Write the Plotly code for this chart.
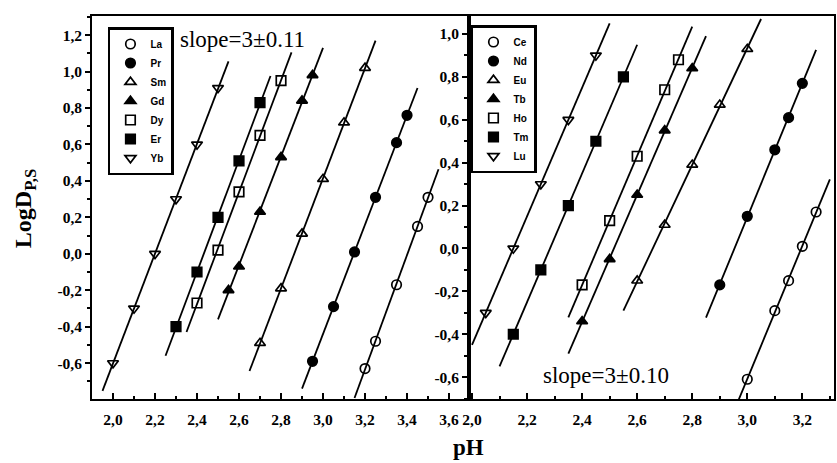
import numpy as np
import plotly.graph_objects as go

# ---------------- data ----------------
left_names = ["La", "Pr", "Sm", "Gd", "Dy", "Er", "Yb"]
right_names = ["Ce", "Nd", "Eu", "Tb", "Ho", "Tm", "Lu"]

la_x = [3.20, 3.25, 3.35, 3.45, 3.50]
la_y = [-0.63, -0.48, -0.17, 0.15, 0.31]
pr_x = [2.95, 3.05, 3.15, 3.25, 3.35, 3.40]
pr_y = [-0.59, -0.29, 0.01, 0.31, 0.61, 0.76]
sm_x = [2.70, 2.80, 2.90, 3.00, 3.10, 3.20]
sm_y = [-0.49, -0.19, 0.11, 0.41, 0.72, 1.02]
gd_x = [2.55, 2.60, 2.70, 2.80, 2.90, 2.95]
gd_y = [-0.20, -0.07, 0.23, 0.53, 0.84, 0.98]
dy_x = [2.40, 2.50, 2.60, 2.70, 2.80]
dy_y = [-0.27, 0.02, 0.34, 0.65, 0.95]
er_x = [2.30, 2.40, 2.50, 2.60, 2.70]
er_y = [-0.40, -0.10, 0.20, 0.51, 0.83]
yb_x = [2.00, 2.10, 2.20, 2.30, 2.40, 2.50]
yb_y = [-0.60, -0.30, 0.00, 0.30, 0.60, 0.91]

ce_x = [3.00, 3.10, 3.15, 3.20, 3.25]
ce_y = [-0.61, -0.29, -0.15, 0.01, 0.17]
nd_x = [2.90, 3.00, 3.10, 3.15, 3.20]
nd_y = [-0.17, 0.15, 0.46, 0.61, 0.77]
eu_x = [2.60, 2.70, 2.80, 2.90, 3.00]
eu_y = [-0.15, 0.11, 0.39, 0.67, 0.93]
tb_x = [2.40, 2.50, 2.60, 2.70, 2.80]
tb_y = [-0.34, -0.05, 0.25, 0.55, 0.84]
ho_x = [2.40, 2.50, 2.60, 2.70, 2.75]
ho_y = [-0.17, 0.13, 0.43, 0.74, 0.88]
tm_x = [2.15, 2.25, 2.35, 2.45, 2.55]
tm_y = [-0.40, -0.10, 0.20, 0.50, 0.80]
lu_x = [2.05, 2.15, 2.25, 2.35, 2.45]
lu_y = [-0.30, 0.00, 0.30, 0.60, 0.90]

left_xticks = [2.0, 2.2, 2.4, 2.6, 2.8, 3.0, 3.2, 3.4, 3.6]
left_yticks = [-0.6, -0.4, -0.2, 0.0, 0.2, 0.4, 0.6, 0.8, 1.0, 1.2]
right_xticks = [2.0, 2.2, 2.4, 2.6, 2.8, 3.0, 3.2]
right_yticks = [-0.6, -0.4, -0.2, 0.0, 0.2, 0.4, 0.6, 0.8, 1.0]

left_slope_text = "slope=3±0.11"
right_slope_text = "slope=3±0.10"
x_title = "pH"
y_title = "LogD<sub>P,S</sub>"

# ---------------- styling ----------------
symbols = ["circle-open", "circle", "triangle-up-open", "triangle-up",
           "square-open", "square", "triangle-down-open"]
left_series = [(la_x, la_y), (pr_x, pr_y), (sm_x, sm_y), (gd_x, gd_y),
               (dy_x, dy_y), (er_x, er_y), (yb_x, yb_y)]
right_series = [(ce_x, ce_y), (nd_x, nd_y), (eu_x, eu_y), (tb_x, tb_y),
                (ho_x, ho_y), (tm_x, tm_y), (lu_x, lu_y)]

EXT = 0.05
fig = go.Figure()


def add_panel(names, series, xa, ya, legend_id):
    for name, sym, (xs, ys) in zip(names, symbols, series):
        k, b = np.polyfit(xs, ys, 1)
        lx = np.array([min(xs) - EXT, max(xs) + EXT])
        fig.add_trace(go.Scatter(x=lx, y=k * lx + b, mode="lines",
                                 line=dict(color="black", width=1.8),
                                 xaxis=xa, yaxis=ya, showlegend=False,
                                 hoverinfo="skip"))
    for name, sym, (xs, ys) in zip(names, symbols, series):
        fig.add_trace(go.Scatter(x=xs, y=ys, mode="markers", name=name,
                                 marker=dict(symbol=sym, size=9.5, color="black",
                                             line=dict(color="black", width=1.7)),
                                 xaxis=xa, yaxis=ya, legend=legend_id))


add_panel(left_names, left_series, "x", "y", "legend")
add_panel(right_names, right_series, "x2", "y2", "legend2")


def fmt(v):
    return "<b>" + f"{v:.1f}".replace(".", ",") + "</b>"


tickfont = dict(family="Liberation Serif", size=15.5, color="black")
axis_common = dict(showline=True, linecolor="black", linewidth=1.8, mirror=True,
                   showgrid=False, zeroline=False, tickfont=tickfont,
                   tickcolor="black", tickwidth=1.5)

L, R, T, B = 92, 1, 16, 64
W, H = 837, 463
pw = W - L - R
ph = H - T - B


def px(xp):
    return (xp - L) / pw


def py(yp):
    return (H - B - yp) / ph


split = px(470)
fig.update_layout(
    width=W, height=H,
    margin=dict(l=L, r=R, t=T, b=B),
    plot_bgcolor="white", paper_bgcolor="white",
    xaxis=dict(domain=[0, split], range=[1.90, 3.695], anchor="y",
               tickmode="array", tickvals=left_xticks,
               ticktext=[fmt(v) for v in left_xticks],
               ticks="inside", ticklen=6, ticklabelstandoff=5,
               minor=dict(tickmode="linear", tick0=0, dtick=0.1, ticks="inside",
                          ticklen=3, tickcolor="black"),
               **axis_common),
    yaxis=dict(domain=[0, 1], range=[-0.797, 1.305], anchor="x",
               tickmode="array", tickvals=left_yticks,
               ticktext=[fmt(v) for v in left_yticks],
               ticks="outside", ticklen=5,
               minor=dict(tickmode="linear", tick0=0, dtick=0.1, ticks="outside",
                          ticklen=3, tickcolor="black"),
               **axis_common),
    xaxis2=dict(domain=[split, 1], range=[1.989, 3.315], anchor="y2",
                tickmode="array", tickvals=right_xticks,
                ticktext=[fmt(v) for v in right_xticks],
                ticks="inside", ticklen=6, ticklabelstandoff=5,
                minor=dict(tickmode="linear", tick0=0, dtick=0.1, ticks="inside",
                           ticklen=3, tickcolor="black"),
                **axis_common),
    yaxis2=dict(domain=[0, 1], range=[-0.702, 1.084], anchor="x2",
                tickmode="array", tickvals=right_yticks,
                ticktext=[fmt(v) for v in right_yticks],
                ticks="outside", ticklen=5,
                minor=dict(tickmode="linear", tick0=0, dtick=0.1, ticks="outside",
                           ticklen=3, tickcolor="black"),
                **axis_common),
    legend=dict(x=px(108), y=py(27), xanchor="left", yanchor="top",
                bordercolor="black", borderwidth=2.5, bgcolor="white",
                font=dict(family="Liberation Sans", size=10, color="black", weight="bold"),
                tracegroupgap=0, itemwidth=30),
    legend2=dict(x=px(472), y=py(25), xanchor="left", yanchor="top",
                 bordercolor="black", borderwidth=2.5, bgcolor="white",
                 font=dict(family="Liberation Sans", size=10, color="black", weight="bold"),
                 tracegroupgap=0, itemwidth=30),
    annotations=[
        dict(text=left_slope_text, xref="paper", yref="paper",
             x=px(243), y=py(40), xanchor="center", yanchor="middle", showarrow=False,
             font=dict(family="Liberation Serif", size=23, color="black")),
        dict(text=right_slope_text, xref="paper", yref="paper",
             x=px(607), y=py(375), xanchor="center", yanchor="middle", showarrow=False,
             font=dict(family="Liberation Serif", size=23, color="black")),
        dict(text="<b>" + x_title + "</b>", xref="paper", yref="paper",
             x=px(470), y=py(447), xanchor="center", yanchor="middle", showarrow=False,
             font=dict(family="Liberation Serif", size=23, color="black")),
        dict(text="<b>" + y_title + "</b>", xref="paper", yref="paper", textangle=-90,
             x=px(25), y=py(208), xanchor="center", yanchor="middle", showarrow=False,
             font=dict(family="Liberation Serif", size=24, color="black")),
    ],
)

fig.write_html("out.html",
               config={"displayModeBar": False},
               post_script="document.body.style.margin='0';"
                           "document.body.style.overflow='hidden';")
